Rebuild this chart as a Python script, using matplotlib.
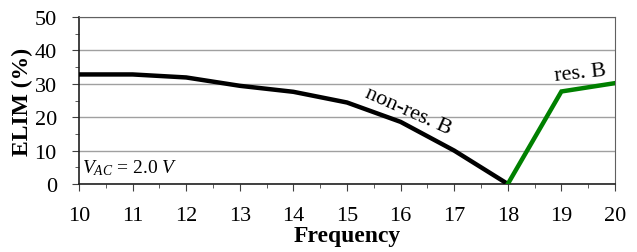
import numpy as np
import matplotlib
matplotlib.use("Agg")
import matplotlib.pyplot as plt
from matplotlib.ticker import MultipleLocator

plt.rcParams['font.family'] = ['Liberation Serif', 'DejaVu Serif']
plt.rcParams['mathtext.fontset'] = 'custom'
plt.rcParams['mathtext.it'] = 'Liberation Serif:italic'
plt.rcParams['mathtext.rm'] = 'Liberation Serif'

# non-resonant branch (black) and resonant branch (green)
freq_nonres = [10, 11, 12, 13, 14, 15, 16, 17, 18]
elim_nonres = [32.8, 32.8, 31.9, 29.4, 27.6, 24.4, 18.6, 10.0, 0.0]
freq_res = [18, 19, 20]
elim_res = [0.0, 27.7, 30.2]

fig = plt.figure(figsize=(6.37, 2.53), dpi=100)
ax = fig.add_axes([79 / 637, 1 - 185 / 253, (615 - 79) / 637, (185 - 18) / 253])

ax.plot(freq_nonres, elim_nonres, color='black', lw=3.2, solid_joinstyle='miter', zorder=3)
ax.plot(freq_res, elim_res, color='#008000', lw=3.2, solid_joinstyle='miter', zorder=3)

ax.set_xlim(10, 20)
ax.set_ylim(0, 50)
ax.xaxis.set_major_locator(MultipleLocator(1))
ax.xaxis.set_minor_locator(MultipleLocator(0.5))
ax.yaxis.set_major_locator(MultipleLocator(10))
ax.yaxis.set_minor_locator(MultipleLocator(5))
ax.tick_params(axis='both', which='both', direction='out', labelsize=16, color='#404040')
ax.tick_params(axis='both', which='major', length=5)
ax.tick_params(axis='both', which='minor', length=3)
ax.tick_params(axis='x', pad=11)
ax.tick_params(axis='y', pad=11)
ax.grid(axis='y', which='major', color='#a0a0a0', lw=1)

for side in ['top', 'right']:
    ax.spines[side].set_color('#606060')
for side in ['left', 'bottom']:
    ax.spines[side].set_color('#202020')
    ax.spines[side].set_linewidth(1.2)

ax.set_xlabel('Frequency', fontsize=17, fontweight='bold', labelpad=0)
ax.set_ylabel('ELIM (%)', fontsize=17, fontweight='bold', labelpad=1)

ax.text(10.06, 2.2, r'$V_{AC}$ = 2.0 $V$', fontsize=14, ha='left', va='bottom')
ax.text(16.14, 21.9, 'non-res. B', fontsize=16, rotation=-24, ha='center', va='center',
        rotation_mode='anchor')
ax.text(19.35, 33.4, 'res. B', fontsize=16, rotation=6, ha='center', va='center',
        rotation_mode='anchor')

fig.savefig('out.png', dpi=100)
